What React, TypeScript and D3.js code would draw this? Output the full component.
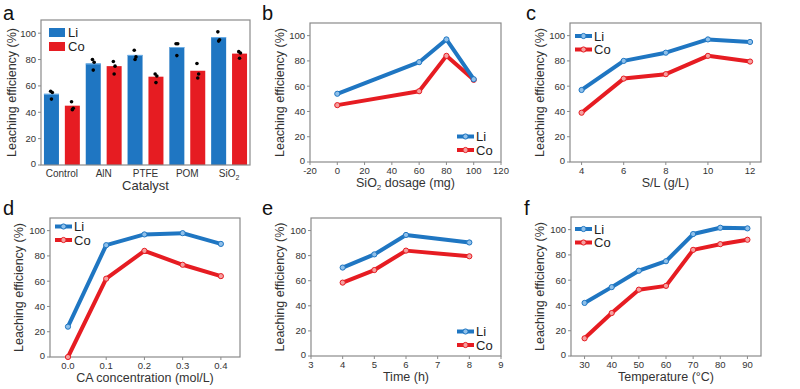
import React from "react";
import * as d3 from "d3";

const BLUE = "#1f76c2";
const RED = "#e61c22";
const BLUE_L = "#8fc0ea";
const RED_L = "#f5a0a0";
const FRAME = "#8a8a8a";
const TXT = "#333";
const FONT = "Liberation Sans, Arial, sans-serif";

// Panel a
const catA = ["Control", "AlN", "PTFE", "POM", "SiO2"];
const liA = [54, 77, 83.5, 89.5, 97];
const coA = [45, 75, 67, 71.5, 84.5];
const liDotsA = [[56, 55, 50], [80, 78, 72], [87, 82, 80], [92, 92, 83], [101, 95, 94]];
const coDotsA = [[48, 43, 42], [78.5, 75, 69], [69, 67.5, 62.5], [77, 69, 66], [86, 85, 81]];

// Panel b
const xB = [0, 60, 80, 100];
const liB = [54, 79, 97, 65.5];
const coB = [45, 56, 84, 65];
// Panel c
const xC = [4, 6, 8, 10, 12];
const liC = [57, 80, 86.5, 97, 95];
const coC = [39, 66, 69.5, 84, 79.5];
// Panel d
const xD = [0, 0.1, 0.2, 0.3, 0.4];
const liD = [24, 88.5, 97, 98, 89.5];
const coD = [0, 62, 84, 73, 64];
// Panel e
const xE = [4, 5, 6, 8];
const liE = [70.5, 81, 96.5, 90.5];
const coE = [58.5, 68.5, 84, 79.5];
// Panel f
const xF = [30, 40, 50, 60, 70, 80, 90];
const liF = [42, 54.5, 67.5, 75, 96.5, 101.5, 101];
const coF = [14, 34, 52.5, 55.5, 84, 88.5, 92];

const yTicks = [0, 20, 40, 60, 80, 100];

type Box = { x0: number; x1: number; y0: number; y1: number };

function YAxis({ box, y, titleX }: { box: Box; y: d3.ScaleLinear<number, number>; titleX: number }) {
  return (
    <g>
      {yTicks.map((t) => (
        <g key={t}>
          <line x1={box.x0 - 3} x2={box.x0} y1={y(t)} y2={y(t)} stroke={FRAME} strokeWidth={1} />
          <text x={box.x0 - 5} y={y(t) - (t === 0 ? 1 : 0)} dy="0.35em" textAnchor="end" fontSize={9.5} fill={TXT} fontFamily={FONT}>
            {t}
          </text>
        </g>
      ))}
      <text
        transform={`translate(${titleX},${(box.y0 + box.y1) / 2}) rotate(-90)`}
        textAnchor="middle"
        dy="0.35em"
        fontSize={12.5}
        fill={TXT}
        fontFamily={FONT}
      >
        Leaching efficiency (%)
      </text>
    </g>
  );
}

function Frame({ box }: { box: Box }) {
  return (
    <rect x={box.x0} y={box.y0} width={box.x1 - box.x0} height={box.y1 - box.y0} fill="none" stroke={FRAME} strokeWidth={1.2} />
  );
}

function LineLegend({ x, y }: { x: number; y: number }) {
  const items = [
    { c: BLUE, l: BLUE_L, t: "Li", dy: 0 },
    { c: RED, l: RED_L, t: "Co", dy: 13.5 },
  ];
  return (
    <g>
      {items.map((it) => (
        <g key={it.t}>
          <line x1={x} x2={x + 17} y1={y + it.dy} y2={y + it.dy} stroke={it.c} strokeWidth={4} />
          <circle cx={x + 8.5} cy={y + it.dy} r={2.6} fill={it.l} stroke={it.c} strokeWidth={1} />
          <text x={x + 19} y={y + it.dy} dy="0.35em" fontSize={13} fill="#222" fontFamily={FONT}>
            {it.t}
          </text>
        </g>
      ))}
    </g>
  );
}

function LinePanel({
  box, xDomain, xTicks, xFmt, xs, li, co, title, titleX, legend,
}: {
  box: Box; xDomain: [number, number]; xTicks: number[]; xFmt: (v: number) => string;
  xs: number[]; li: number[]; co: number[]; title: React.ReactNode; titleX: number; legend: [number, number];
}) {
  const x = d3.scaleLinear().domain(xDomain).range([box.x0, box.x1]);
  const y = d3.scaleLinear().domain([0, 110]).range([box.y1, box.y0]);
  const line = d3.line<number>().x((_, i) => x(xs[i])).y((d) => y(d));
  const series = [
    { v: li, c: BLUE, l: BLUE_L },
    { v: co, c: RED, l: RED_L },
  ];
  return (
    <g>
      <Frame box={box} />
      <YAxis box={box} y={y} titleX={titleX} />
      {xTicks.map((t) => (
        <g key={t}>
          <line x1={x(t)} x2={x(t)} y1={box.y1} y2={box.y1 + 3} stroke={FRAME} strokeWidth={1} />
          <text x={x(t)} y={box.y1 + 8.5} dy="0.35em" textAnchor="middle" fontSize={9.5} fill={TXT} fontFamily={FONT}>
            {xFmt(t)}
          </text>
        </g>
      ))}
      <text x={(box.x0 + box.x1) / 2} y={box.y1 + 21} dy="0.35em" textAnchor="middle" fontSize={12.5} fill={TXT} fontFamily={FONT}>
        {title}
      </text>
      {series.reverse().map((s, k) => (
        <g key={k}>
          <path d={line(s.v) || ""} fill="none" stroke={s.c} strokeWidth={4} strokeLinejoin="round" strokeLinecap="round" />
          {s.v.map((v, i) => (
            <circle key={i} cx={x(xs[i])} cy={y(v)} r={2.6} fill={s.l} stroke={s.c} strokeWidth={1} />
          ))}
        </g>
      ))}
      <LineLegend x={legend[0]} y={legend[1]} />
    </g>
  );
}

function BarPanel() {
  const box: Box = { x0: 41, x1: 250, y0: 20, y1: 165 };
  const x = d3.scaleBand<string>().domain(catA).range([box.x0, box.x1]).padding(0);
  const y = d3.scaleLinear().domain([0, 110]).range([box.y1, box.y0]);
  const half = x.bandwidth() / 2;
  const bw = 15;
  const dotOff = [-0.8, 0.9, 0];
  return (
    <g>
      {catA.map((c, i) => {
        const cx1 = (x(c) as number) + half / 2;
        const cx2 = (x(c) as number) + half + half / 2;
        return (
          <g key={c}>
            <rect x={cx1 - bw / 2} y={y(liA[i])} width={bw} height={y(0) - y(liA[i])} fill={BLUE} />
            <line x1={cx1 - bw / 2} x2={cx1 + bw / 2} y1={y(liA[i]) + 0.5} y2={y(liA[i]) + 0.5} stroke="#6fb0e8" strokeWidth={1} />
            <rect x={cx2 - bw / 2} y={y(coA[i])} width={bw} height={y(0) - y(coA[i])} fill={RED} />
            {liDotsA[i].map((v, k) => (
              <circle key={"l" + k} cx={cx1 + dotOff[k]} cy={y(v)} r={1.8} fill="#000" />
            ))}
            {coDotsA[i].map((v, k) => (
              <circle key={"c" + k} cx={cx2 + dotOff[k]} cy={y(v)} r={1.8} fill="#000" />
            ))}
            <text x={(x(c) as number) + half} y={box.y1 + 8} dy="0.35em" textAnchor="middle" fontSize={10} fill={TXT} fontFamily={FONT}>
              {c === "SiO2" ? (
                <>
                  SiO<tspan fontSize={7} dy="3">2</tspan>
                </>
              ) : (
                c
              )}
            </text>
          </g>
        );
      })}
      <Frame box={box} />
      <YAxis box={box} y={y} titleX={12} />
      <text x={(box.x0 + box.x1) / 2} y={box.y1 + 20} dy="0.35em" textAnchor="middle" fontSize={13} fill={TXT} fontFamily={FONT}>
        Catalyst
      </text>
      <rect x={49} y={28} width={16} height={9} fill={BLUE} />
      <text x={68} y={32.5} dy="0.35em" fontSize={13} fill="#222" fontFamily={FONT}>Li</text>
      <rect x={49} y={42} width={16} height={9} fill={RED} />
      <text x={68} y={46.5} dy="0.35em" fontSize={13} fill="#222" fontFamily={FONT}>Co</text>
    </g>
  );
}

export default function App() {
  const letters = [
    { t: "a", x: 3, y: 20 },
    { t: "b", x: 262, y: 20 },
    { t: "c", x: 526, y: 20 },
    { t: "d", x: 3, y: 215 },
    { t: "e", x: 262, y: 215 },
    { t: "f", x: 524, y: 215 },
  ];
  return (
    <svg width={800} height={389} style={{ position: "absolute", left: 0, top: 0, background: "#fff" }}>
      <rect width={800} height={389} fill="#fff" />
      {letters.map((l) => (
        <text key={l.t} x={l.x} y={l.y} fontSize={20} fill="#111" fontFamily={FONT}>
          {l.t}
        </text>
      ))}
      <BarPanel />
      <LinePanel
        box={{ x0: 310, x1: 501, y0: 23, y1: 162 }}
        xDomain={[-20, 120]}
        xTicks={[-20, 0, 20, 40, 60, 80, 100, 120]}
        xFmt={(v) => String(v)}
        xs={xB} li={liB} co={coB}
        title={<>SiO<tspan fontSize={8} dy="3">2</tspan><tspan dy="-3"> dosage (mg)</tspan></>}
        titleX={280}
        legend={[457, 136.5]}
      />
      <LinePanel
        box={{ x0: 570, x1: 761, y0: 23, y1: 162 }}
        xDomain={[3.45, 12.52]}
        xTicks={[4, 6, 8, 10, 12]}
        xFmt={(v) => String(v)}
        xs={xC} li={liC} co={coC}
        title="S/L (g/L)"
        titleX={540}
        legend={[575, 36]}
      />
      <LinePanel
        box={{ x0: 50, x1: 240, y0: 218, y1: 357 }}
        xDomain={[-0.047, 0.45]}
        xTicks={[0, 0.1, 0.2, 0.3, 0.4]}
        xFmt={(v) => v.toFixed(1)}
        xs={xD} li={liD} co={coD}
        title="CA concentration (mol/L)"
        titleX={19}
        legend={[55, 226.5]}
      />
      <LinePanel
        box={{ x0: 311, x1: 501, y0: 218, y1: 356 }}
        xDomain={[3, 9]}
        xTicks={[3, 4, 5, 6, 7, 8, 9]}
        xFmt={(v) => String(v)}
        xs={xE} li={liE} co={coE}
        title="Time (h)"
        titleX={280}
        legend={[457, 331.5]}
      />
      <LinePanel
        box={{ x0: 571, x1: 761, y0: 217, y1: 356 }}
        xDomain={[25, 95]}
        xTicks={[30, 40, 50, 60, 70, 80, 90]}
        xFmt={(v) => String(v)}
        xs={xF} li={liF} co={coF}
        title="Temperature (°C)"
        titleX={540}
        legend={[575, 229]}
      />
    </svg>
  );
}
